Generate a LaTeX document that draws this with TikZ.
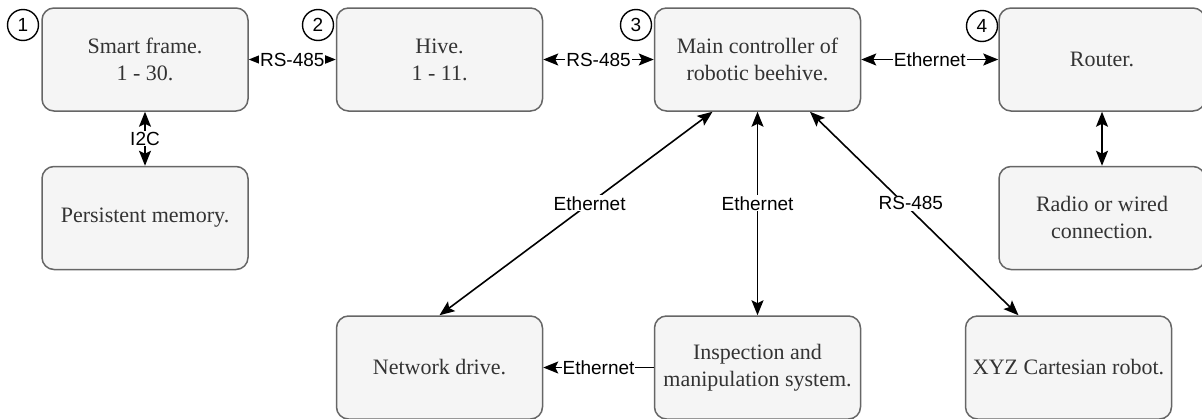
\documentclass[tikz,border=0pt]{standalone}
\usepackage{fontspec}
\setmainfont{Liberation Serif}
\setsansfont{Liberation Sans}
\usetikzlibrary{arrows.meta,calc}
\definecolor{boxfill}{HTML}{F5F5F5}
\definecolor{boxline}{HTML}{666666}
\definecolor{boxtext}{HTML}{333333}
\tikzset{
 blk/.style={draw=boxline, fill=boxfill, line width=1.5pt, rounded corners=12pt, minimum width=206pt, minimum height=103pt, align=center, text=boxtext, font=\fontsize{22}{27}\selectfont, inner sep=0pt},
 num/.style={circle, draw, line width=1.4pt, fill=white, minimum size=31pt, inner sep=0pt, font=\sffamily\fontsize{19}{21}\selectfont},
 conn/.style={line width=1.6pt, {Stealth[length=15pt,width=12pt,inset=3pt]}-{Stealth[length=15pt,width=12pt,inset=3pt]}},
 conn1/.style={line width=1.6pt, -{Stealth[length=15pt,width=12pt,inset=3pt]}},
 lbl/.style={fill=white, inner sep=1pt, font=\sffamily\fontsize{19}{21}\selectfont, text=black},
}
\begin{document}
\begin{tikzpicture}[x=1pt,y=-1pt]
\useasboundingbox (0,0) rectangle (1202,418);
\node[blk] (sf) at (145,59.5) {Smart frame.\\1 - 30.};
\node[blk] (hive) at (439.5,59.5) {Hive.\\1 - 11.};
\node[blk] (main) at (757.5,59.5) {Main controller of\\robotic beehive.};
\node[blk] (router) at (1102,59.5) {Router.};
\node[blk] (mem) at (145,218) {Persistent memory.};
\node[blk] (radio) at (1102,218) {Radio or wired\\connection.};
\node[blk] (nd) at (439.5,367.5) {Network drive.};
\node[blk] (insp) at (757.5,367.5) {Inspection and\\manipulation system.};
\node[blk] (xyz) at (1068.5,367.5) {XYZ Cartesian robot.};
\node[num] (n1) at (23,25) {1};
\node[num] (n2) at (318,25) {2};
\node[num] (n3) at (636,25) {3};
\node[num] (n4) at (982,26) {4};
\coordinate (mA) at ($(main.south)+(-45,0)$);
\coordinate (mB) at ($(main.south)+(52.5,0)$);
\coordinate (xA) at ($(xyz.north)+(-50,0)$);
\draw[conn] (sf) -- node[lbl] {RS-485} (hive);
\draw[conn] (hive) -- node[lbl] {RS-485} (main);
\draw[conn] (main) -- node[lbl] {Ethernet} (router);
\draw[conn] (sf) -- node[lbl] {I2C} (mem);
\draw[conn] (router) -- (radio);
\draw[conn] (mA) -- node[lbl,pos=0.45] {Ethernet} (nd.north);
\draw[conn] (main) -- node[lbl,pos=0.45] {Ethernet} (insp);
\draw[conn] (mB) -- node[lbl,pos=0.45,xshift=7pt] {RS-485} (xA);
\draw[conn1] (insp) -- node[lbl] {Ethernet} (nd);
\end{tikzpicture}
\end{document}
